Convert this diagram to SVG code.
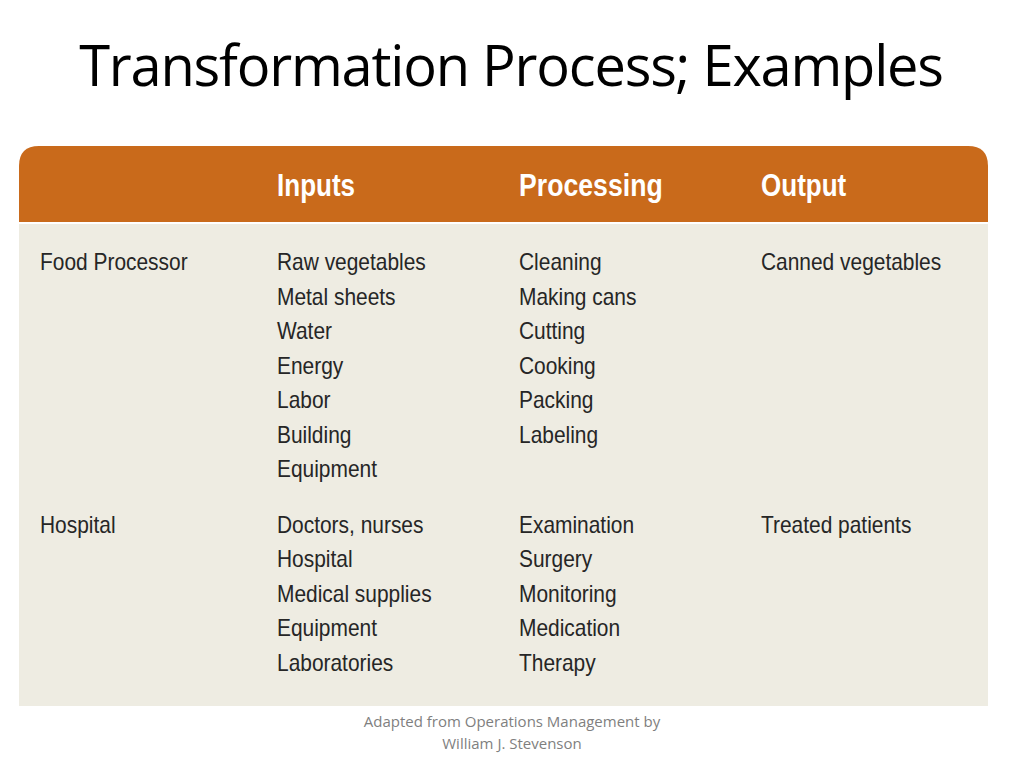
<svg xmlns="http://www.w3.org/2000/svg" width="1024" height="768" viewBox="0 0 1024 768">
<style>
.t{font-family:"Liberation Sans",Arial,sans-serif;font-size:23px;fill:#262626}
.h{font-family:"Liberation Sans",Arial,sans-serif;font-size:31px;font-weight:bold;fill:#ffffff}
.title{font-family:"Open Sans","Liberation Sans",sans-serif;font-size:56px;letter-spacing:-1.2px;fill:#000000}
.note{font-family:"Open Sans","Liberation Sans",sans-serif;font-size:15px;fill:#7f7f7f}
</style>
<rect width="1024" height="768" fill="#ffffff"/>
<text class="title" x="511" y="86" text-anchor="middle">Transformation Process; Examples</text>
<g id="table">
<rect x="19" y="224" width="969" height="482" fill="#EEECE2"/>
<path d="M19,222 L19,166 Q19,146 39,146 L968,146 Q988,146 988,166 L988,222 Z" fill="#C96A1B"/>
</g>
<g id="header">
<text class="h" transform="translate(277,196) scale(0.84,1)">Inputs</text>
<text class="h" transform="translate(519,196) scale(0.86,1)">Processing</text>
<text class="h" transform="translate(761,196) scale(0.84,1)">Output</text>
</g>
<g id="food">
<g transform="translate(40,0) scale(0.91,1)">
<text class="t" y="270">Food Processor</text>
</g>
<g transform="translate(277,0) scale(0.91,1)">
<text class="t" y="270">Raw vegetables</text>
<text class="t" y="305">Metal sheets</text>
<text class="t" y="339">Water</text>
<text class="t" y="374">Energy</text>
<text class="t" y="408">Labor</text>
<text class="t" y="443">Building</text>
<text class="t" y="477">Equipment</text>
</g>
<g transform="translate(519,0) scale(0.91,1)">
<text class="t" y="270">Cleaning</text>
<text class="t" y="305">Making cans</text>
<text class="t" y="339">Cutting</text>
<text class="t" y="374">Cooking</text>
<text class="t" y="408">Packing</text>
<text class="t" y="443">Labeling</text>
</g>
<g transform="translate(761,0) scale(0.91,1)">
<text class="t" y="270">Canned vegetables</text>
</g>
</g>
<g id="hospital">
<g transform="translate(40,0) scale(0.91,1)">
<text class="t" y="533">Hospital</text>
</g>
<g transform="translate(277,0) scale(0.91,1)">
<text class="t" y="533">Doctors, nurses</text>
<text class="t" y="567">Hospital</text>
<text class="t" y="602">Medical supplies</text>
<text class="t" y="636">Equipment</text>
<text class="t" y="671">Laboratories</text>
</g>
<g transform="translate(519,0) scale(0.91,1)">
<text class="t" y="533">Examination</text>
<text class="t" y="567">Surgery</text>
<text class="t" y="602">Monitoring</text>
<text class="t" y="636">Medication</text>
<text class="t" y="671">Therapy</text>
</g>
<g transform="translate(761,0) scale(0.91,1)">
<text class="t" y="533">Treated patients</text>
</g>
</g>
<g id="note">
<text class="note" x="512" y="727" text-anchor="middle">Adapted from Operations Management by</text>
<text class="note" x="512" y="749" text-anchor="middle">William J. Stevenson</text>
</g>
</svg>
